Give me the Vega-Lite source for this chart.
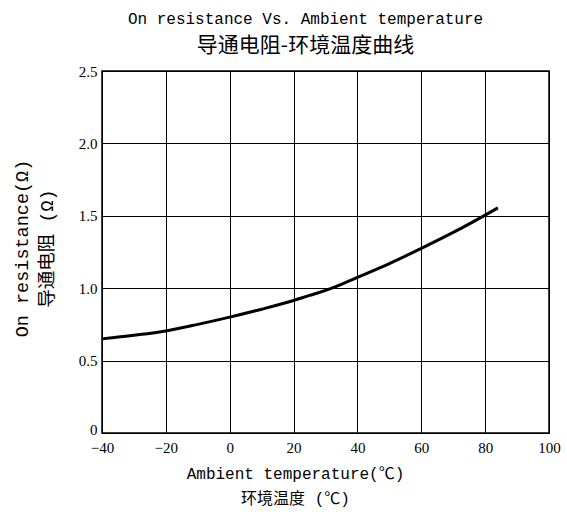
{
  "$schema": "https://vega.github.io/schema/vega-lite/v6.json",
  "width": 447,
  "height": 362,
  "autosize": {"type": "none"},
  "padding": {"left": 102, "top": 71, "right": 18, "bottom": 81},
  "background": "white",
  "title": {
    "text": "On resistance Vs. Ambient temperature",
    "subtitle": "导通电阻-环境温度曲线",
    "anchor": "middle",
    "dx": -20,
    "font": "Liberation Mono",
    "fontSize": 16,
    "fontWeight": "normal",
    "color": "black",
    "subtitleFont": "Noto Sans CJK SC",
    "subtitleFontSize": 21,
    "subtitleColor": "black",
    "subtitlePadding": 8,
    "offset": 8
  },
  "data": {
    "values": [
      {"t": -40, "r": 0.65},
      {"t": -30, "r": 0.675},
      {"t": -20, "r": 0.705},
      {"t": -10, "r": 0.75},
      {"t": 0, "r": 0.8},
      {"t": 10, "r": 0.855},
      {"t": 20, "r": 0.915},
      {"t": 25, "r": 0.95},
      {"t": 28, "r": 0.97},
      {"t": 32, "r": 1.0},
      {"t": 40, "r": 1.075},
      {"t": 50, "r": 1.17},
      {"t": 60, "r": 1.275},
      {"t": 70, "r": 1.385},
      {"t": 80, "r": 1.505},
      {"t": 84, "r": 1.555}
    ]
  },
  "mark": {"type": "line", "color": "black", "strokeWidth": 3, "interpolate": "monotone"},
  "encoding": {
    "x": {
      "field": "t",
      "type": "quantitative",
      "scale": {"domain": [-40, 100], "nice": false, "zero": false},
      "axis": {
        "values": [-40, -20, 0, 20, 40, 60, 80, 100],
        "title": ["Ambient temperature(℃)", "环境温度 (℃)"],
        "titleFont": "Liberation Mono, Noto Sans CJK SC",
        "titleFontSize": 16,
        "titleFontWeight": "normal",
        "titleColor": "black",
        "titleLineHeight": 25,
        "titleX": 193,
        "titlePadding": 10,
        "labelFont": "Liberation Serif",
        "labelFontSize": 15,
        "labelColor": "black",
        "labelPadding": 7,
        "labelFlush": false,
        "ticks": false,
        "domain": false,
        "grid": true,
        "gridColor": "black",
        "gridOpacity": 1,
        "gridWidth": 1
      }
    },
    "y": {
      "field": "r",
      "type": "quantitative",
      "scale": {"domain": [0, 2.5], "nice": false},
      "axis": {
        "values": [0, 0.5, 1, 1.5, 2, 2.5],
        "labelExpr": "datum.value == 0 ? '0' : format(datum.value, '.1f')",
        "labelOffset": {"condition": {"test": "datum.value == 0", "value": -4}, "value": 0},
        "title": ["On resistance(Ω)", "导通电阻 (Ω)"],
        "titleFont": "Liberation Mono, Noto Sans CJK SC",
        "titleFontSize": 18.5,
        "titleFontWeight": "normal",
        "titleColor": "black",
        "titleLineHeight": 25,
        "titleY": 177,
        "titlePadding": 22,
        "labelFont": "Liberation Serif",
        "labelFontSize": 15,
        "labelColor": "black",
        "labelPadding": 5,
        "labelFlush": false,
        "ticks": false,
        "domain": false,
        "grid": true,
        "gridColor": "black",
        "gridOpacity": 1,
        "gridWidth": 1
      }
    }
  },
  "config": {
    "view": {"stroke": "black", "strokeWidth": 1.5}
  }
}
